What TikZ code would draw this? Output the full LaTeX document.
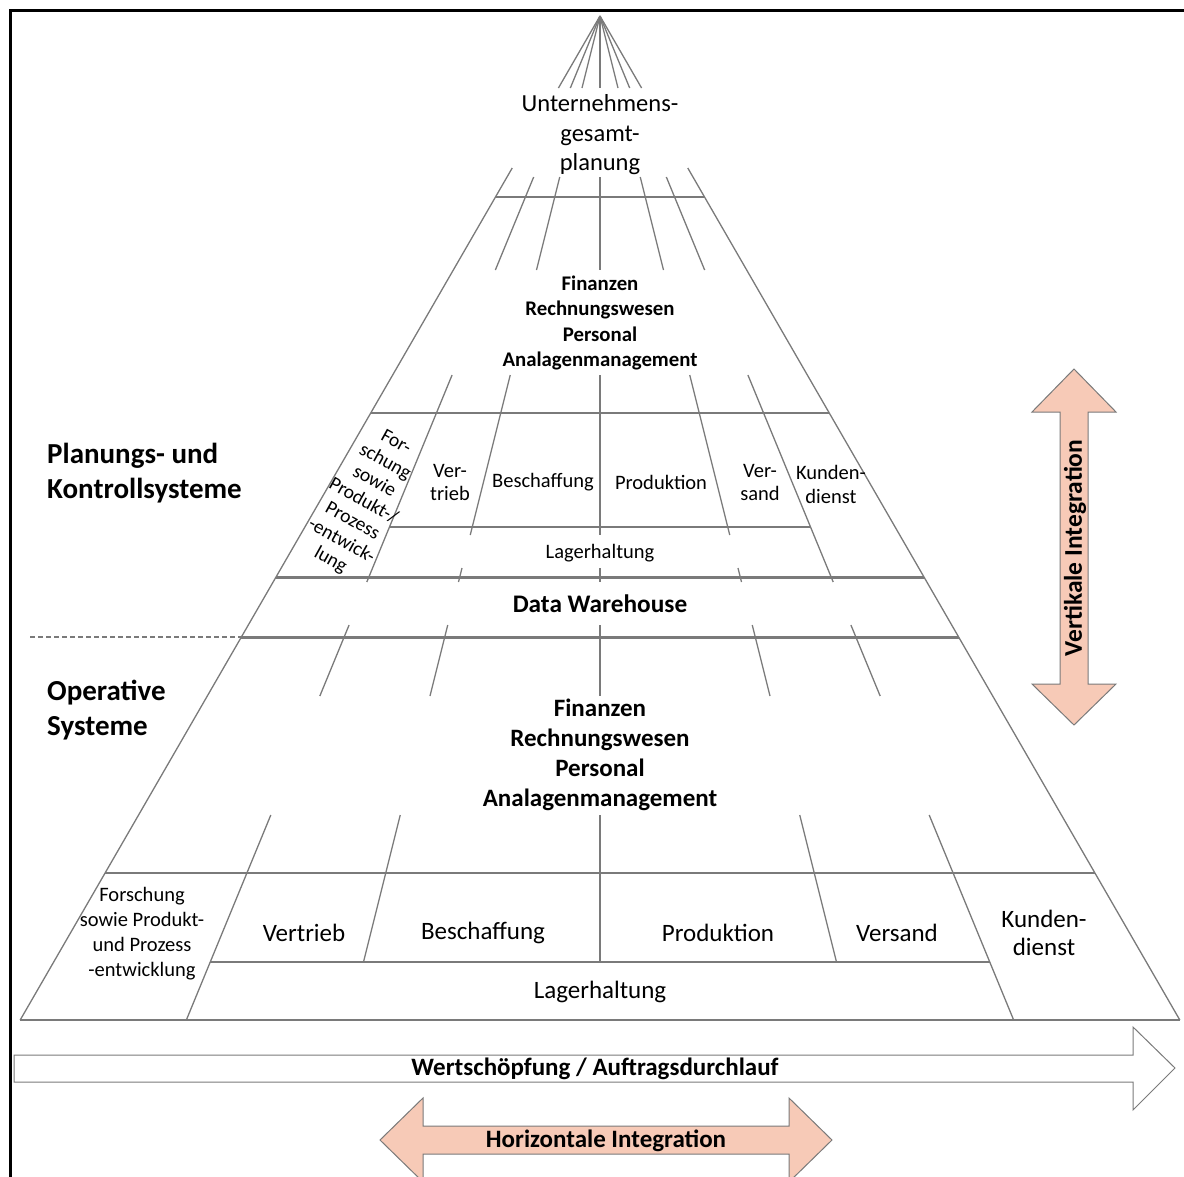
\documentclass[tikz,border=0pt]{standalone}
\usepackage{fontspec}
\setmainfont{Carlito}
\definecolor{lgray}{HTML}{7A7A7A}
\definecolor{peach}{HTML}{F7CAB7}
\newcommand\fsz[2]{\fontsize{#1}{#2}\selectfont}
\begin{document}
\begin{tikzpicture}[x=1pt,y=-1pt,
  ln/.style={draw=lgray,line width=1.3pt},
  thick band/.style={draw=lgray,line width=3pt},
  txt/.style={inner sep=0pt,align=center},
  arrowshape/.style={draw=lgray,line width=1pt,line join=miter}]
\useasboundingbox (0,0) rectangle (1184,1176);
\clip (0,0) rectangle (1184,1176);

% outer frame (only top and left edges fall inside the page)
\draw[black,line width=3pt] (10,1180) -- (10,10) -- (1190,10);

% radial lines from the apex at (600,16); x = 600 + s*(y-16)
% fan above the title
\foreach \s in {-0.5775,-0.412,-0.25,0,0.25,0.412,0.5775}
  \draw[ln] (600,16) -- ({600+\s*(88-16)},88);
% outer edges of the pyramid
\foreach \s in {-0.5775,0.5775}
  \draw[ln] ({600+\s*(168-16)},168) -- ({600+\s*(1020-16)},1020);
% inner lines: slope / from / to
\foreach \s/\a/\b in {
  -0.412/177/270,-0.25/177/270,0/177/270,0.25/177/270,0.412/177/270,
  -0.412/375/582,0.412/375/582,
  -0.25/375/535,0/375/535,0.25/375/535,
  -0.25/568/582,0/568/582,0.25/568/582,
  -0.412/625/696,-0.25/625/696,0/625/696,0.25/625/696,0.412/625/696,
  -0.412/815/1020,0.412/815/1020,
  -0.25/815/962,0/815/962,0.25/815/962}
  \draw[ln] ({600+\s*(\a-16)},\a) -- ({600+\s*(\b-16)},\b);
% horizontal divisions across the full width
\foreach \y in {197,413,873,1020}
  \draw[ln] ({600-0.5775*(\y-16)},\y) -- ({600+0.5775*(\y-16)},\y);
% storage rows
\foreach \y in {527,962}
  \draw[ln] ({600-0.412*(\y-16)},\y) -- ({600+0.412*(\y-16)},\y);
% data warehouse band
\foreach \y in {577,637}
  \draw[thick band] ({600-0.5775*(\y-16)},\y) -- ({600+0.5775*(\y-16)},\y);
\coordinate (dwleft) at ({600-0.5775*(637-16)},637);
\coordinate (dashend) at (30,637);
\draw[draw=lgray,line width=2.5pt,dash pattern=on 5pt off 3pt] (dashend) -- (dwleft);

% top
\node[txt,font=\fsz{24.5}{29.5}] (top) at (600,135) {Unternehmens-\\gesamt-\\planung};
% planning and control level
\node[txt,font=\fsz{20.8}{25.5}\bfseries] (finU) at (600,323) {Finanzen\\Rechnungswesen\\Personal\\Analagenmanagement};
\node[txt,font=\fsz{19.5}{22.5},rotate=-29] (forU) at (363,502) {For-\\schung\\sowie\\Produkt-/\\Prozess\\-entwick-\\lung};
\node[txt,font=\fsz{20.5}{23}] (verU) at (450,482) {Ver-\\trieb};
\node[txt,font=\fsz{20.5}{23}] (besU) at (543,482) {Beschaffung};
\node[txt,font=\fsz{20.5}{23}] (proU) at (661,482) {Produktion};
\node[txt,font=\fsz{20.5}{23}] (vsU) at (760,482) {Ver-\\sand};
\node[txt,font=\fsz{20.5}{24}] (kuU) at (831,484) {Kunden-\\dienst};
\node[txt,font=\fsz{20.5}{23}] (lagU) at (600,553) {Lagerhaltung};
\node[txt,font=\fsz{25.3}{28}\bfseries] (dw) at (600,604) {Data Warehouse};

% operative level
\node[txt,font=\fsz{25}{30}\bfseries] (finL) at (600,755) {Finanzen\\Rechnungswesen\\Personal\\Analagenmanagement};
\node[txt,font=\fsz{20.5}{25}] (forL) at (142,934) {Forschung\\sowie Produkt-\\und Prozess\\-entwicklung};
\node[txt,font=\fsz{25}{28}] (verL) at (304,933) {Vertrieb};
\node[txt,font=\fsz{25}{28}] (besL) at (483,933) {Beschaffung};
\node[txt,font=\fsz{25}{28}] (proL) at (718,933) {Produktion};
\node[txt,font=\fsz{25}{28}] (vsL) at (897,933) {Versand};
\node[txt,font=\fsz{25}{28}] (kuL) at (1044,933) {Kunden-\\dienst};
\node[txt,font=\fsz{25}{28}] (lagL) at (600,992) {Lagerhaltung};

% level captions
\node[txt,align=left,anchor=west,font=\fsz{29}{35}\bfseries] (plan) at (47,473) {Planungs- und\\Kontrollsysteme};
\node[txt,align=left,anchor=west,font=\fsz{29}{35}\bfseries] (oper) at (47,710) {Operative\\Systeme};

% vertical integration arrow
\draw[arrowshape,fill=peach] (1074,369) -- (1116,412) -- (1088,412) -- (1088,684) -- (1116,684)
  -- (1074,725) -- (1032,684) -- (1060,684) -- (1060,412) -- (1032,412) -- cycle;
\node[txt,font=\fsz{25.5}{28}\bfseries,rotate=90] (vint) at (1075,548) {Vertikale Integration};

% value chain arrow
\draw[arrowshape,fill=white] (14,1055) -- (1133,1055) -- (1133,1027) -- (1175,1068)
  -- (1133,1110) -- (1133,1082) -- (14,1082) -- cycle;
\node[txt,font=\fsz{25}{28}\bfseries] (wert) at (595,1069) {Wertschöpfung / Auftragsdurchlauf};

% horizontal integration arrow
\draw[arrowshape,fill=peach] (380,1140) -- (423,1098) -- (423,1126) -- (789,1126) -- (789,1098)
  -- (832,1140) -- (789,1182) -- (789,1154) -- (423,1154) -- (423,1182) -- cycle;
\node[txt,font=\fsz{25}{28}\bfseries] (hint) at (606,1141) {Horizontale Integration};
\end{tikzpicture}
\end{document}
